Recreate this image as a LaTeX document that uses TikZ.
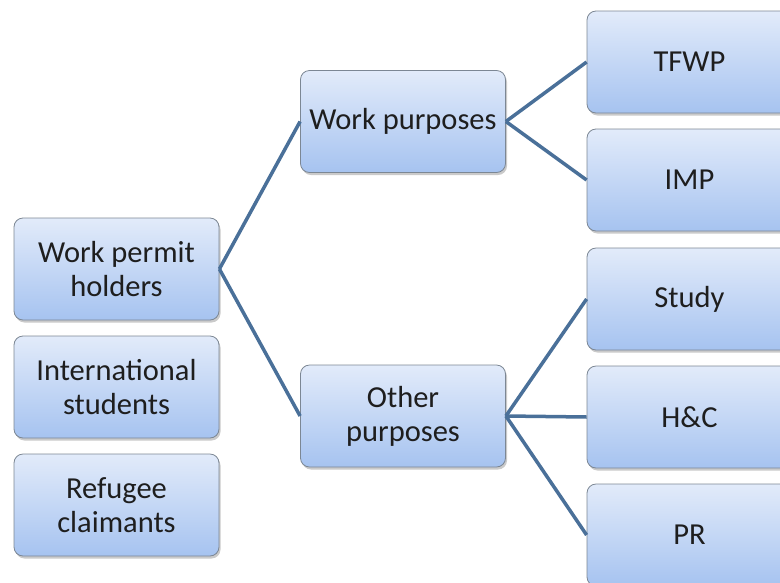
\documentclass[tikz,border=0pt]{standalone}
\usepackage{fontspec}
\setmainfont{Carlito}
\usetikzlibrary{shadows}
\definecolor{boxtop}{HTML}{E2EBFA}
\definecolor{boxbot}{HTML}{A6C3F0}
\definecolor{boxline}{HTML}{7C8794}
\definecolor{linkc}{HTML}{4A7099}
\definecolor{txt}{HTML}{1E1E1E}
\begin{document}
\begin{tikzpicture}[x=1pt,y=1pt,
  boxn/.style={draw=boxline, line width=0.8pt, rounded corners=9pt,
    top color=boxtop, bottom color=boxbot,
    minimum width=205pt, minimum height=102pt, inner sep=2pt,
    align=center, text=txt,
    font=\fontsize{30.5}{34}\selectfont,
    drop shadow={shadow xshift=1.5pt, shadow yshift=-2.5pt, opacity=0.35, fill=black!60}},
  link/.style={draw=linkc, line width=3.5pt}]
\useasboundingbox (0,0) rectangle (780,-582);
\node[boxn] (wph) at (116.5,-269) {Work permit\\holders};
\node[boxn] (ints) at (116.5,-387) {International\\students};
\node[boxn] (ref) at (116.5,-505) {Refugee\\claimants};
\node[boxn] (wp) at (403,-121.5) {Work purposes};
\node[boxn] (op) at (403,-416) {Other\\purposes};
\node[boxn] (tfwp) at (689.5,-62) {TFWP};
\node[boxn] (imp) at (689.5,-180) {IMP};
\node[boxn] (study) at (689.5,-299) {Study};
\node[boxn] (hc) at (689.5,-417) {H\&C};
\node[boxn] (pr) at (689.5,-535) {PR};
\draw[link] (wph.east) -- (wp.west);
\draw[link] (wph.east) -- (op.west);
\draw[link] (wp.east) -- (tfwp.west);
\draw[link] (wp.east) -- (imp.west);
\draw[link] (op.east) -- (study.west);
\draw[link] (op.east) -- (hc.west);
\draw[link] (op.east) -- (pr.west);
\end{tikzpicture}
\end{document}
